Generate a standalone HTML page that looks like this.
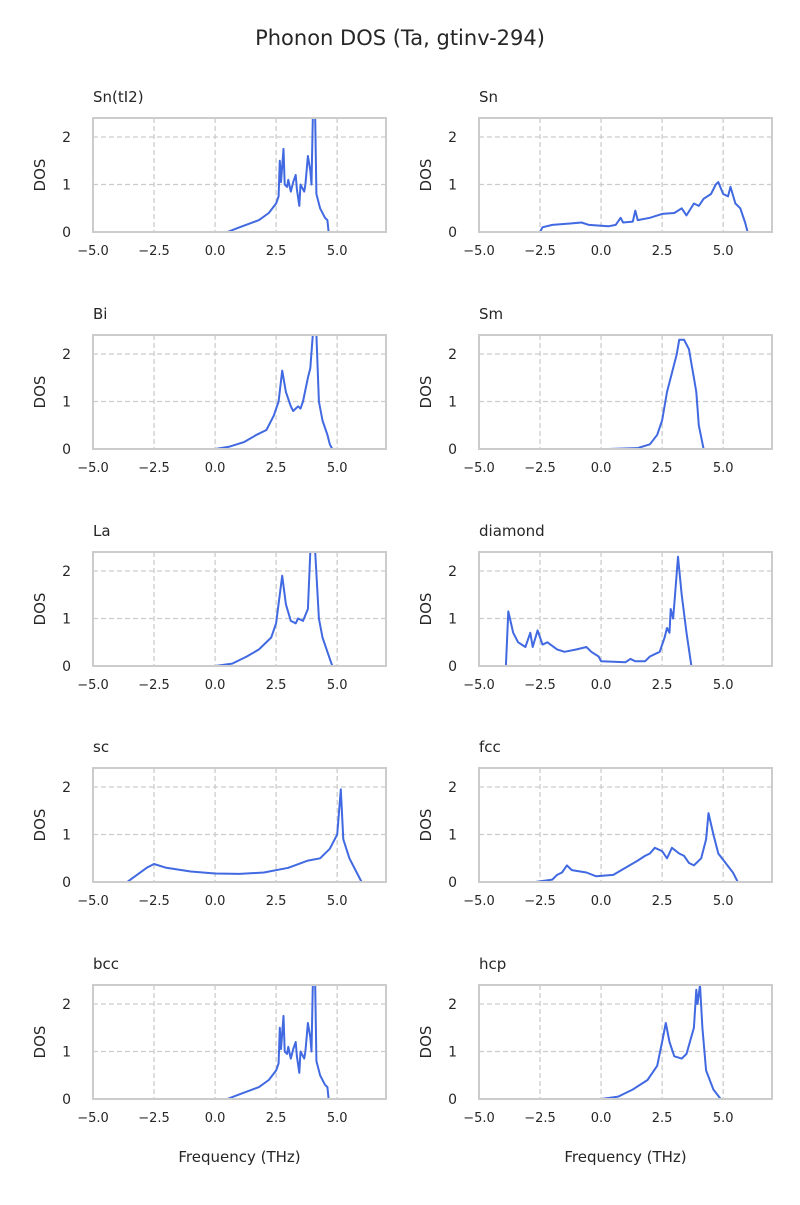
<!DOCTYPE html>
<html><head><meta charset="utf-8"><style>
body{margin:0;background:#fff}
svg text{font-family:"DejaVu Sans","Liberation Sans",sans-serif;fill:#262626}
</style></head><body>
<svg id="fig" width="800" height="1200" viewBox="0 0 800 1200" xmlns="http://www.w3.org/2000/svg">
<text x="400" y="45" font-size="21" text-anchor="middle">Phonon DOS (Ta, gtinv-294)</text>
</svg>
<script>
const titles = ["Sn(tI2)","Sn","Bi","Sm","La","diamond","sc","fcc","bcc","hcp"];
const xTicks = [-5, -2.5, 0, 2.5, 5];
const xTickLabels = ["\u22125.0","\u22122.5","0.0","2.5","5.0"];
const yTicks = [0, 1, 2];
const sntI2 = [[0,0],[0.5,0],[1.0,0.1],[1.8,0.25],[2.2,0.4],[2.5,0.6],[2.6,0.75],[2.65,1.5],[2.7,1.05],[2.8,1.75],[2.85,1.0],[2.95,0.95],[3.0,1.1],[3.1,0.85],[3.2,1.05],[3.3,1.2],[3.35,0.9],[3.45,0.55],[3.5,1.0],[3.65,0.85],[3.7,1.0],[3.8,1.6],[3.9,1.3],[3.95,1.0],[4.0,2.4],[4.1,2.4],[4.15,0.8],[4.3,0.5],[4.5,0.3],[4.6,0.25],[4.65,0],[5.0,0]];
const sn = [[-3.3,0],[-2.5,0],[-2.4,0.1],[-2.0,0.15],[-1.2,0.18],[-0.8,0.2],[-0.5,0.15],[0.3,0.12],[0.6,0.15],[0.8,0.3],[0.9,0.2],[1.3,0.22],[1.4,0.45],[1.5,0.25],[2.0,0.3],[2.5,0.38],[3.0,0.4],[3.3,0.5],[3.5,0.35],[3.8,0.6],[4.0,0.55],[4.2,0.7],[4.5,0.8],[4.7,1.0],[4.8,1.05],[5.0,0.8],[5.2,0.75],[5.3,0.95],[5.5,0.6],[5.7,0.5],[5.9,0.2],[6.0,0],[6.7,0]];
const bi = [[0,0],[0.6,0.05],[1.2,0.15],[1.7,0.3],[2.1,0.4],[2.4,0.7],[2.6,1.0],[2.75,1.65],[2.9,1.2],[3.1,0.9],[3.2,0.8],[3.4,0.9],[3.5,0.85],[3.6,1.0],[3.8,1.5],[3.9,1.7],[4.0,2.4],[4.15,2.4],[4.25,1.0],[4.4,0.6],[4.6,0.3],[4.7,0.1],[4.8,0],[5.0,0]];
const sm = [[0.3,0],[1.5,0.02],[2.0,0.1],[2.3,0.3],[2.5,0.6],[2.7,1.2],[2.9,1.6],[3.1,2.0],[3.2,2.3],[3.4,2.3],[3.5,2.2],[3.6,2.1],[3.7,1.8],[3.8,1.5],[3.9,1.2],[4.0,0.5],[4.2,0],[4.6,0]];
const la = [[0,0],[0.7,0.05],[1.3,0.2],[1.8,0.35],[2.3,0.6],[2.5,0.9],[2.75,1.9],[2.9,1.3],[3.1,0.95],[3.3,0.9],[3.4,1.0],[3.6,0.95],[3.8,1.2],[3.9,2.4],[4.1,2.4],[4.25,1.0],[4.4,0.6],[4.6,0.3],[4.8,0],[5.0,0]];
const diamond = [[-4.8,0],[-3.9,0],[-3.8,1.15],[-3.6,0.7],[-3.4,0.5],[-3.1,0.4],[-2.9,0.7],[-2.8,0.4],[-2.6,0.75],[-2.4,0.45],[-2.2,0.5],[-1.8,0.35],[-1.5,0.3],[-1.0,0.35],[-0.6,0.4],[-0.4,0.3],[-0.1,0.2],[0.0,0.1],[1.0,0.08],[1.2,0.15],[1.4,0.1],[1.8,0.1],[2.0,0.2],[2.4,0.3],[2.6,0.6],[2.7,0.8],[2.8,0.7],[2.85,1.2],[2.95,1.0],[3.0,1.3],[3.15,2.3],[3.3,1.5],[3.5,0.7],[3.7,0],[4.3,0]];
const sc = [[-4.6,0],[-3.6,0],[-3.2,0.15],[-2.8,0.3],[-2.5,0.38],[-2.0,0.3],[-1.0,0.22],[0,0.18],[1.0,0.17],[2.0,0.2],[3.0,0.3],[3.8,0.45],[4.3,0.5],[4.7,0.7],[5.0,1.0],[5.15,1.95],[5.25,0.9],[5.5,0.5],[5.8,0.2],[6.0,0],[6.8,0]];
const fcc = [[-2.7,0],[-2.0,0.05],[-1.8,0.15],[-1.6,0.2],[-1.4,0.35],[-1.2,0.25],[-0.6,0.2],[-0.2,0.12],[0.5,0.15],[1.0,0.3],[1.5,0.45],[1.8,0.55],[2.0,0.6],[2.2,0.72],[2.5,0.65],[2.7,0.5],[2.9,0.72],[3.2,0.6],[3.4,0.55],[3.6,0.4],[3.8,0.35],[4.1,0.5],[4.3,0.9],[4.4,1.45],[4.6,1.0],[4.8,0.6],[5.1,0.4],[5.4,0.2],[5.6,0],[6.1,0]];
const bcc = [[0,0],[0.5,0],[1.0,0.1],[1.8,0.25],[2.2,0.4],[2.5,0.6],[2.6,0.75],[2.65,1.5],[2.7,1.05],[2.8,1.75],[2.85,1.0],[2.95,0.95],[3.0,1.1],[3.1,0.85],[3.2,1.05],[3.3,1.2],[3.35,0.9],[3.45,0.55],[3.5,1.0],[3.65,0.85],[3.7,1.0],[3.8,1.6],[3.9,1.3],[3.95,1.0],[4.0,2.4],[4.1,2.4],[4.15,0.8],[4.3,0.5],[4.5,0.3],[4.6,0.25],[4.65,0],[5.0,0]];
const hcp = [[0,0],[0.7,0.05],[1.3,0.2],[1.9,0.4],[2.3,0.7],[2.5,1.2],[2.65,1.6],[2.8,1.2],[3.0,0.9],[3.3,0.85],[3.5,0.95],[3.8,1.5],[3.9,2.3],[3.95,2.0],[4.05,2.4],[4.15,1.5],[4.3,0.6],[4.6,0.2],[4.9,0],[5.1,0]];
const series = [sntI2, sn, bi, sm, la, diamond, sc, fcc, bcc, hcp];

const NS = "http://www.w3.org/2000/svg";
const svg = document.getElementById("fig");
const XMIN=-5, XMAX=7, YMIN=0, YMAX=2.4;
const colX=[93,479], W=293, rowY=[118,335,552,768,985], H=114;
function mk(tag, attrs, parent){const e=document.createElementNS(NS,tag);for(const k in attrs)e.setAttribute(k,attrs[k]);parent.appendChild(e);return e;}

series.forEach((data,i)=>{
  const x0=colX[i%2], y0=rowY[Math.floor(i/2)];
  const sx=v=>x0+(v-XMIN)/(XMAX-XMIN)*W;
  const sy=v=>y0+H-(v-YMIN)/(YMAX-YMIN)*H;
  const g=mk("g",{},svg);
  
  
  const cp=mk("clipPath",{id:"c"+i},g);
  mk("rect",{x:x0,y:y0,width:W,height:H},cp);
  xTicks.forEach((t,j)=>{
    const gl=mk("line",{x1:sx(t),x2:sx(t),y1:y0,y2:y0+H,stroke:"#cccccc","stroke-width":1.3,"stroke-dasharray":"5,3"},g);
    
    
    const tl=mk("text",{x:sx(t),y:y0+H+23,"font-size":13,"text-anchor":"middle"},g);
    tl.textContent=xTickLabels[j];
    
    
  });
  yTicks.forEach(t=>{
    const gl=mk("line",{x1:x0,x2:x0+W,y1:sy(t),y2:sy(t),stroke:"#cccccc","stroke-width":1.3,"stroke-dasharray":"5,3"},g);
    
    
    const tl=mk("text",{x:x0-22,y:sy(t)+5,"font-size":14,"text-anchor":"end"},g);
    tl.textContent=String(t);
    
    
  });
  const path=mk("polyline",{points:data.map(p=>sx(p[0]).toFixed(1)+","+sy(p[1]).toFixed(1)).join(" "),fill:"none",stroke:"#4169e1","stroke-width":2,"stroke-linejoin":"round","clip-path":"url(#c"+i+")"},g);
  
  
  const fr=mk("rect",{x:x0,y:y0,width:W,height:H,fill:"none",stroke:"#cccccc","stroke-width":2},g);
  
  
  const tt=mk("text",{x:x0,y:y0-16,"font-size":15},g);
  tt.textContent=titles[i];
  
  
  const yl=mk("text",{x:0,y:0,"font-size":15,"text-anchor":"middle",transform:"translate("+(x0-48)+","+(y0+H/2)+") rotate(-90)"},g);
  yl.textContent="DOS";
  
  
  if(i>=8){
    const xl=mk("text",{x:x0+W/2,y:y0+H+63,"font-size":15,"text-anchor":"middle"},g);
    xl.textContent="Frequency (THz)";
    
    
  }
});
</script>
</body></html>
